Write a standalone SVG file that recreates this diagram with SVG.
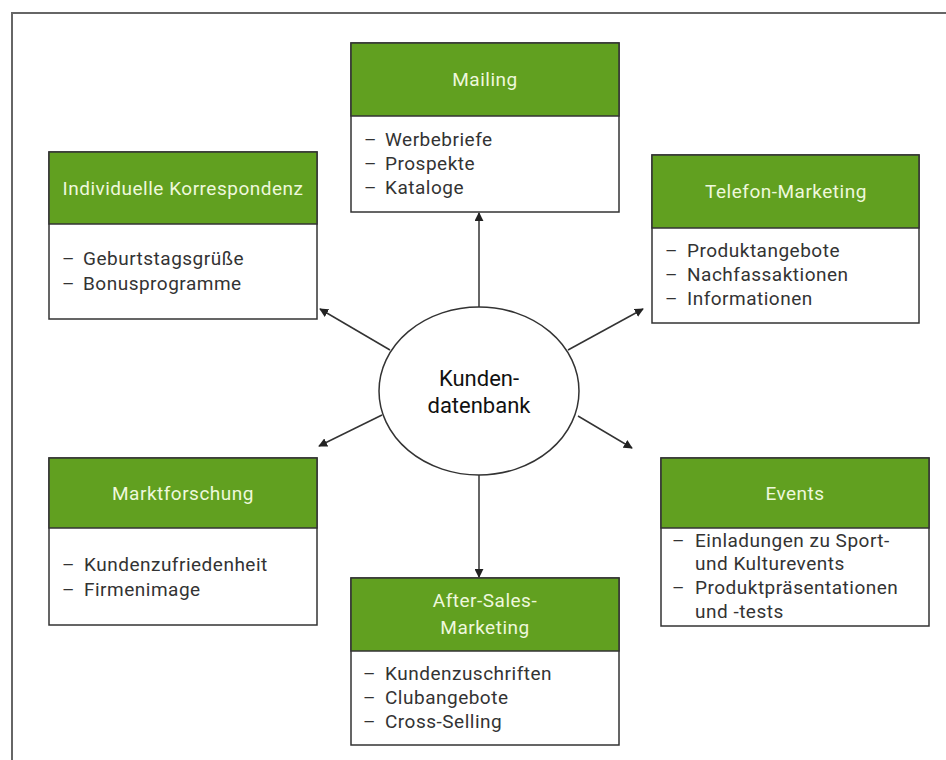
<svg xmlns="http://www.w3.org/2000/svg" width="946" height="760" viewBox="0 0 946 760">
  <defs>
    <marker id="arrow" viewBox="0 0 10 10" refX="9" refY="5" markerWidth="9" markerHeight="9" markerUnits="userSpaceOnUse" orient="auto">
      <path d="M0,0 L10,5 L0,10 z" fill="#222"/>
    </marker>
    <style>
      .frame { fill: none; stroke: #666; stroke-width: 2; }
      .box { fill: #fff; stroke: #333; stroke-width: 1.5; }
      .head { fill: #61a020; stroke: #333; stroke-width: 1.5; }
      .ht { font-family: Roboto, "Liberation Sans", sans-serif; font-size: 19px; letter-spacing: 0.5px; fill: #eef8dc; text-anchor: middle; }
      .bt { font-family: Roboto, "Liberation Sans", sans-serif; font-size: 19px; letter-spacing: 0.5px; fill: #333; }
      .ct { font-family: Roboto, "Liberation Sans", sans-serif; font-size: 22px; fill: #111; text-anchor: middle; }
      .link { stroke: #333; stroke-width: 1.5; fill: none; marker-end: url(#arrow); }
    </style>
  </defs>

  <rect width="946" height="760" fill="#fff"/>
  <!-- outer frame, open at right and bottom -->
  <path class="frame" d="M12,760 V13 H946"/>

  <!-- connectors from the central database -->
  <g id="connectors">
    <line class="link" x1="479" y1="307" x2="479" y2="213"/>
    <line class="link" x1="479" y1="475" x2="479" y2="577"/>
    <line class="link" x1="390" y1="350" x2="320" y2="309"/>
    <line class="link" x1="568" y1="350" x2="643" y2="309"/>
    <line class="link" x1="382" y1="415" x2="319" y2="446"/>
    <line class="link" x1="578" y1="416" x2="632" y2="448"/>
  </g>

  <g id="center">
    <ellipse cx="479" cy="391" rx="100" ry="84" fill="#fff" stroke="#333" stroke-width="1.5"/>
    <text class="ct" x="479" y="386">Kunden-</text>
    <text class="ct" x="479" y="413">datenbank</text>
  </g>

  <g id="mailing">
    <rect class="box" x="351" y="43" width="268" height="169"/>
    <rect class="head" x="351" y="43" width="268" height="73"/>
    <text class="ht" x="485" y="86">Mailing</text>
    <text class="bt" x="364" y="146">–</text><text class="bt" x="385" y="146">Werbebriefe</text>
    <text class="bt" x="364" y="170">–</text><text class="bt" x="385" y="170">Prospekte</text>
    <text class="bt" x="364" y="194">–</text><text class="bt" x="385" y="194">Kataloge</text>
  </g>

  <g id="korrespondenz">
    <rect class="box" x="49" y="152" width="268" height="167"/>
    <rect class="head" x="49" y="152" width="268" height="72"/>
    <text class="ht" x="183" y="195">Individuelle Korrespondenz</text>
    <text class="bt" x="62" y="265">–</text><text class="bt" x="83" y="265">Geburtstagsgrüße</text>
    <text class="bt" x="62" y="290">–</text><text class="bt" x="83" y="290">Bonusprogramme</text>
  </g>

  <g id="telefon">
    <rect class="box" x="652" y="155" width="267" height="168"/>
    <rect class="head" x="652" y="155" width="267" height="73"/>
    <text class="ht" x="786" y="198">Telefon-Marketing</text>
    <text class="bt" x="665" y="257">–</text><text class="bt" x="687" y="257">Produktangebote</text>
    <text class="bt" x="665" y="281">–</text><text class="bt" x="687" y="281">Nachfassaktionen</text>
    <text class="bt" x="665" y="305">–</text><text class="bt" x="687" y="305">Informationen</text>
  </g>

  <g id="marktforschung">
    <rect class="box" x="49" y="458" width="268" height="167"/>
    <rect class="head" x="49" y="458" width="268" height="70"/>
    <text class="ht" x="183" y="500">Marktforschung</text>
    <text class="bt" x="62" y="571">–</text><text class="bt" x="84" y="571">Kundenzufriedenheit</text>
    <text class="bt" x="62" y="596">–</text><text class="bt" x="84" y="596">Firmenimage</text>
  </g>

  <g id="events">
    <rect class="box" x="661" y="458" width="268" height="168"/>
    <rect class="head" x="661" y="458" width="268" height="70"/>
    <text class="ht" x="795" y="500">Events</text>
    <text class="bt" x="672" y="547">–</text><text class="bt" x="695" y="547">Einladungen zu Sport-</text>
    <text class="bt" x="695" y="570">und Kulturevents</text>
    <text class="bt" x="672" y="594">–</text><text class="bt" x="695" y="594">Produktpräsentationen</text>
    <text class="bt" x="695" y="618">und -tests</text>
  </g>

  <g id="aftersales">
    <rect class="box" x="351" y="578" width="268" height="167"/>
    <rect class="head" x="351" y="578" width="268" height="73"/>
    <text class="ht" x="485" y="607">After-Sales-</text>
    <text class="ht" x="485" y="634">Marketing</text>
    <text class="bt" x="363" y="680">–</text><text class="bt" x="385" y="680">Kundenzuschriften</text>
    <text class="bt" x="363" y="704">–</text><text class="bt" x="385" y="704">Clubangebote</text>
    <text class="bt" x="363" y="728">–</text><text class="bt" x="385" y="728">Cross-Selling</text>
  </g>
</svg>
